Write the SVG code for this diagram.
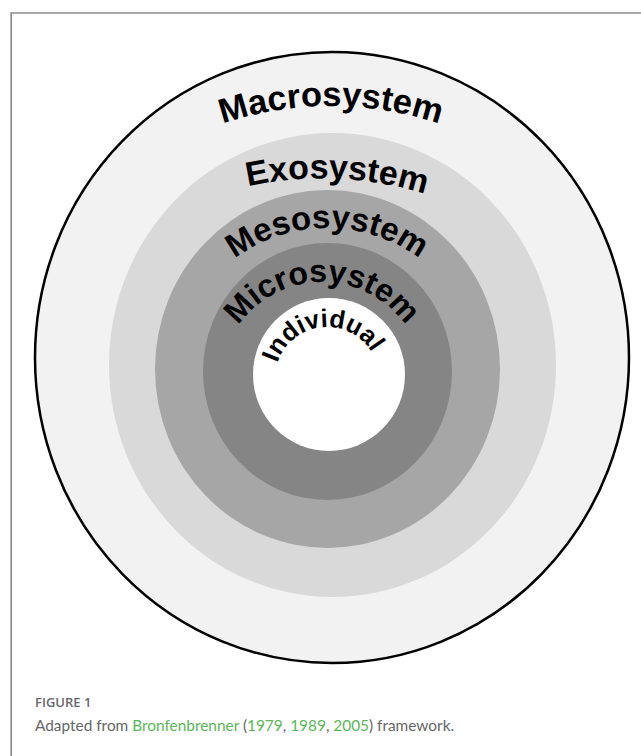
<svg xmlns="http://www.w3.org/2000/svg" xmlns:xlink="http://www.w3.org/1999/xlink" width="641" height="756" viewBox="0 0 641 756">
  <style>
    .ring-label { font-family: "Liberation Sans", Arial, sans-serif; font-weight: bold; fill: #000; }
    .cap { font-family: Lato, "Liberation Sans", sans-serif; font-size: 15.4px; fill: #666; }
    .fig { font-family: "Open Sans", "Liberation Sans", sans-serif; font-size: 13px; font-weight: 600; fill: #666; }
    .link { fill: #5ab757; }
  </style>
  <defs>
    <path id="arc-macro" d="M-8,445 A339,339 0 0 1 670,445"/>
    <path id="arc-exo" d="M-21.67,506 A344,344 0 0 1 665.67,536"/>
    <path id="arc-meso" d="M172,383 A155,155 0 0 1 482,383"/>
    <path id="arc-micro" d="M220,384 A102,102 0 0 1 424,384"/>
    <path id="arc-ind" d="M275.3,384.9 A52,52 0 0 1 378.7,373.1"/>
  </defs>
  <rect width="641" height="756" fill="#fff"/>
  <g id="frame">
    <path d="M11.2,756 V13 H641" fill="none" stroke="#8a8a8a" stroke-width="1.7"/>
  </g>
  <g id="macrosystem">
    <ellipse cx="332" cy="357.5" rx="297" ry="305.5" fill="#f2f2f2" stroke="#000" stroke-width="2.5"/>
    <text class="ring-label" font-size="34.5"><textPath xlink:href="#arc-macro" href="#arc-macro" startOffset="50%" text-anchor="middle">Macrosystem</textPath></text>
  </g>
  <g id="exosystem">
    <ellipse cx="332.5" cy="365" rx="223.5" ry="232" fill="#d9d9d9"/>
    <text class="ring-label" font-size="34"><textPath xlink:href="#arc-exo" href="#arc-exo" startOffset="50%" text-anchor="middle">Exosystem</textPath></text>
  </g>
  <g id="mesosystem">
    <ellipse cx="327.5" cy="369" rx="172.5" ry="179" fill="#a6a6a6"/>
    <text class="ring-label" font-size="33"><textPath xlink:href="#arc-meso" href="#arc-meso" startOffset="50%" text-anchor="middle">Mesosystem</textPath></text>
  </g>
  <g id="microsystem">
    <ellipse cx="327.5" cy="371.5" rx="124.5" ry="128.5" fill="#858585"/>
    <text class="ring-label" font-size="32"><textPath xlink:href="#arc-micro" href="#arc-micro" startOffset="50%" text-anchor="middle">Microsystem</textPath></text>
  </g>
  <g id="individual">
    <ellipse cx="329" cy="374.5" rx="76" ry="76.5" fill="#fff"/>
    <text class="ring-label" font-size="25.5"><textPath xlink:href="#arc-ind" href="#arc-ind" startOffset="50%" text-anchor="middle">Individual</textPath></text>
  </g>
  <g id="caption">
    <text class="fig" x="35" y="707">FIGURE 1</text>
    <text class="cap" x="35" y="731">Adapted from <tspan class="link">Bronfenbrenner</tspan> (<tspan class="link">1979</tspan>, <tspan class="link">1989</tspan>, <tspan class="link">2005</tspan>) framework.</text>
  </g>
</svg>
